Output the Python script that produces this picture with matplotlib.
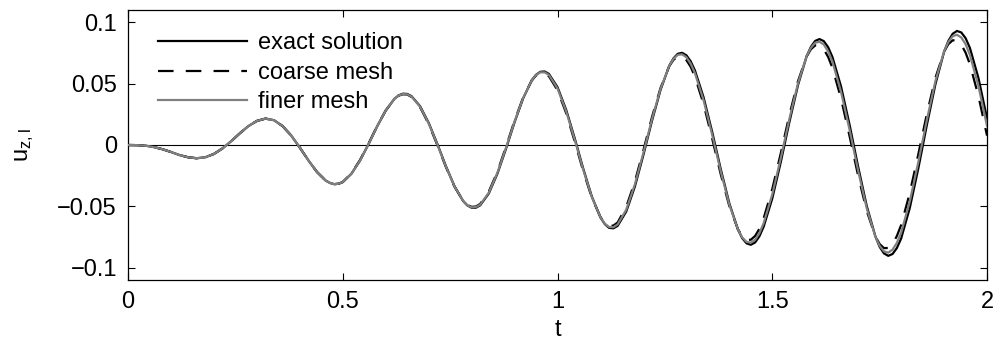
#!/usr/bin/env python3
# -*- coding: utf-8 -*-
"""
Vertical displacement u_z,l over time: exact solution vs. coarse / finer mesh.
MATLAB-like style (box on, inward ticks, zero line).
"""
import numpy as np
import matplotlib
matplotlib.use('Agg')
import matplotlib.pyplot as plt
import matplotlib as mpl

# time grid (sampling every 0.02)
t_base = np.linspace(0.0, 2.0, 101)

exact = [
    0.0, -0.0001, -0.0005, -0.0017, -0.0034, -0.0057, -0.0082, -0.0100, -0.0108, -0.0100,
    -0.0073, -0.0028, 0.0030, 0.0094, 0.0153, 0.0196, 0.0215, 0.0202, 0.0154, 0.0077,
    -0.0021, -0.0125, -0.0220, -0.0289, -0.0319, -0.0302, -0.0235, -0.0128, 0.0007, 0.0151,
    0.0280, 0.0375, 0.0418, 0.0398, 0.0316, 0.0181, 0.0010, -0.0171, -0.0335, -0.0455,
    -0.0511, -0.0491, -0.0395, -0.0234, -0.0031, 0.0186, 0.0380, 0.0527, 0.0596, 0.0579,
    0.0471, 0.0288, 0.0055, -0.0194, -0.0421, -0.0590, -0.0675, -0.0659, -0.0542, -0.0340,
    -0.0080, 0.0198, 0.0451, 0.0644, 0.0743, 0.0731, 0.0607, 0.0389, 0.0108, -0.0196,
    -0.0475, -0.0688, -0.0801, -0.0794, -0.0665, -0.0436, -0.0136, 0.0189, 0.0490, 0.0723,
    0.0848, 0.0846, 0.0717, 0.0478, 0.0164, -0.0179, -0.0498, -0.0744, -0.0883, -0.0888,
    -0.0762, -0.0515, -0.0191, 0.0165, 0.0498, 0.0759, 0.0906, 0.0917, 0.0792, 0.0546,
    0.0216,
]

coarse = [
    0.0, -0.0001, -0.0005, -0.0017, -0.0034, -0.0057, -0.0082, -0.0100, -0.0108, -0.0100,
    -0.0073, -0.0028, 0.0030, 0.0094, 0.0153, 0.0196, 0.0215, 0.0202, 0.0154, 0.0077,
    -0.0021, -0.0125, -0.0220, -0.0289, -0.0319, -0.0302, -0.0231, -0.0124, 0.0011, 0.0154,
    0.0281, 0.0375, 0.0413, 0.0392, 0.0308, 0.0171, 0.0001, -0.0178, -0.0338, -0.0454,
    -0.0504, -0.0480, -0.0380, -0.0218, -0.0015, 0.0198, 0.0387, 0.0525, 0.0586, 0.0560,
    0.0446, 0.0261, 0.0029, -0.0214, -0.0431, -0.0587, -0.0659, -0.0631, -0.0505, -0.0299,
    -0.0042, 0.0228, 0.0466, 0.0641, 0.0721, 0.0692, 0.0556, 0.0333, 0.0054, -0.0238,
    -0.0498, -0.0686, -0.0773, -0.0741, -0.0596, -0.0359, -0.0064, 0.0246, 0.0521, 0.0721,
    0.0812, 0.0779, 0.0629, 0.0380, 0.0071, -0.0252, -0.0538, -0.0744, -0.0840, -0.0806,
    -0.0652, -0.0393, -0.0075, 0.0255, 0.0549, 0.0760, 0.0853, 0.0818, 0.0659, 0.0398,
    0.0076,
]

finer = [
    0.0, -0.0001, -0.0005, -0.0017, -0.0034, -0.0057, -0.0082, -0.0100, -0.0108, -0.0100,
    -0.0073, -0.0028, 0.0030, 0.0094, 0.0153, 0.0196, 0.0215, 0.0202, 0.0154, 0.0077,
    -0.0021, -0.0125, -0.0220, -0.0289, -0.0319, -0.0302, -0.0235, -0.0128, 0.0007, 0.0151,
    0.0281, 0.0375, 0.0415, 0.0395, 0.0312, 0.0177, 0.0006, -0.0174, -0.0336, -0.0454,
    -0.0508, -0.0486, -0.0389, -0.0227, -0.0024, 0.0191, 0.0383, 0.0526, 0.0592, 0.0571,
    0.0460, 0.0276, 0.0044, -0.0203, -0.0425, -0.0589, -0.0668, -0.0647, -0.0527, -0.0322,
    -0.0064, 0.0211, 0.0458, 0.0643, 0.0734, 0.0715, 0.0585, 0.0365, 0.0085, -0.0214,
    -0.0486, -0.0687, -0.0789, -0.0772, -0.0636, -0.0403, -0.0104, 0.0215, 0.0504, 0.0724,
    0.0833, 0.0818, 0.0680, 0.0435, 0.0123, -0.0211, -0.0517, -0.0746, -0.0866, -0.0853,
    -0.0715, -0.0462, -0.0140, 0.0206, 0.0523, 0.0762, 0.0886, 0.0876, 0.0735, 0.0481,
    0.0154,
]

# extra samples around the peaks / troughs (finer resolution there)
t_extra = [0.47, 0.49, 0.63, 0.65, 0.79, 0.81, 0.95, 0.97, 1.11, 1.13,
           1.27, 1.29, 1.31, 1.43, 1.45, 1.47, 1.59, 1.61, 1.63,
           1.75, 1.77, 1.79, 1.91, 1.93, 1.95]
exact_extra = [-0.0309, -0.0316, 0.0404, 0.0416, -0.0492, -0.0511, 0.0572, 0.0599,
               -0.0644, -0.0679, 0.0706, 0.0751, 0.0682, -0.0759, -0.0813, -0.0744,
               0.0800, 0.0863, 0.0797, -0.0830, -0.0903, -0.0840, 0.0848, 0.0929, 0.0871]
coarse_extra = [-0.0309, -0.0316, 0.0402, 0.0411, -0.0488, -0.0501, 0.0566, 0.0585,
                -0.0636, -0.0657, 0.0694, 0.0721, 0.0637, -0.0743, -0.0772, -0.0683,
                0.0780, 0.0812, 0.0718, -0.0807, -0.0839, -0.0742, 0.0822, 0.0852, 0.0753]
finer_extra = [-0.0309, -0.0316, 0.0403, 0.0413, -0.0491, -0.0506, 0.0570, 0.0592,
               -0.0641, -0.0670, 0.0702, 0.0739, 0.0663, -0.0753, -0.0796, -0.0719,
               0.0792, 0.0841, 0.0763, -0.0822, -0.0877, -0.0798, 0.0839, 0.0898, 0.0822]

labels = ['exact solution', 'coarse mesh', 'finer mesh']
x_ticks = [0, 0.5, 1, 1.5, 2]
x_ticklabels = ['0', '0.5', '1', '1.5', '2']
y_ticks = [-0.1, -0.05, 0, 0.05, 0.1]
y_ticklabels = ['\u22120.1', '\u22120.05', '0', '0.05', '0.1']


def merge(base, extra):
    """Combine regular grid samples with the extra samples, sorted by time."""
    t_all = np.concatenate([t_base, t_extra])
    v_all = np.concatenate([base, extra])
    order = np.argsort(t_all, kind='stable')
    return t_all[order], v_all[order]


def main():
    mpl.rcParams['font.family'] = ['Liberation Sans', 'DejaVu Sans']
    mpl.rcParams['font.size'] = 17
    mpl.rcParams['mathtext.fontset'] = 'custom'
    mpl.rcParams['mathtext.rm'] = 'Liberation Sans'
    mpl.rcParams['axes.linewidth'] = 0.9

    fig = plt.figure(figsize=(9.96, 3.44), dpi=100)
    ax = fig.add_axes([0.1285, 0.186, 0.8625, 0.785])

    # zero line
    ax.axhline(0, color='black', linewidth=0.8, zorder=1)

    t_e, y_e = merge(exact, exact_extra)
    t_c, y_c = merge(coarse, coarse_extra)
    t_f, y_f = merge(finer, finer_extra)

    ax.plot(t_e, y_e, color='black', linewidth=1.6, label=labels[0], zorder=2)
    ax.plot(t_c, y_c, color='black', linewidth=1.6, dashes=(7, 5.5),
            label=labels[1], zorder=3)
    ax.plot(t_f, y_f, color='#808080', linewidth=1.6, label=labels[2], zorder=4)

    ax.set_xlim(0, 2)
    ax.set_ylim(-0.11, 0.11)
    ax.set_xticks(x_ticks)
    ax.set_xticklabels(x_ticklabels)
    ax.set_yticks(y_ticks)
    ax.set_yticklabels(y_ticklabels)

    # box on, inward ticks on all sides
    ax.tick_params(direction='in', length=5, width=0.8, top=True, right=True,
                   pad=8)

    ax.set_xlabel('t', labelpad=4)
    ax.set_ylabel(r'$\mathrm{u_{z,l}}$', labelpad=15)

    ax.legend(loc='upper left', frameon=False, handlelength=3.8,
              handletextpad=0.45, labelspacing=0.31,
              bbox_to_anchor=(0.0154, 0.978), borderaxespad=0.3)

    fig.savefig('out.png', dpi=100, facecolor='white')
    plt.close(fig)


if __name__ == '__main__':
    main()
